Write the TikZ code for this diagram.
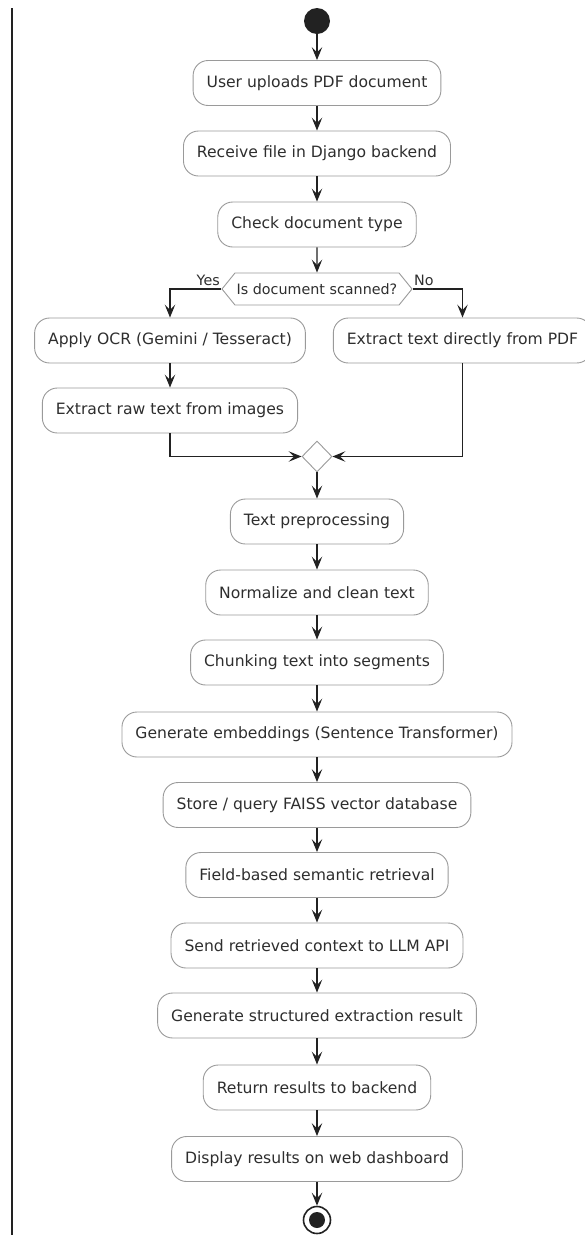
\documentclass[tikz,border=0pt]{standalone}
\usepackage{fontspec}
\setmainfont{DejaVu Sans}
\usetikzlibrary{arrows.meta,shapes.symbols,shapes.geometric}

\definecolor{ink}{HTML}{222222}
\definecolor{edge}{HTML}{9A9A9A}
\definecolor{txt}{HTML}{2E2E2E}

\begin{document}
\begin{tikzpicture}[x=1pt,y=-1pt,
  act/.style={draw=edge, line width=0.9pt, fill=white, rounded corners=15pt,
    minimum height=45pt, inner xsep=13.5pt, inner ysep=0pt, text=txt,
    font=\fontsize{15.6}{18}\selectfont},
  hexbox/.style={draw=edge, line width=0.9pt, fill=white, shape=signal,
    signal to=west and east, signal pointer angle=102,
    minimum width=190pt, minimum height=32pt, inner sep=0pt, text=txt,
    font=\fontsize{14.3}{17}\selectfont},
  mergebox/.style={draw=edge, line width=0.9pt, fill=white, shape=diamond,
    minimum width=30pt, minimum height=31pt, inner sep=0pt},
  lbl/.style={inner sep=0pt, text=txt, font=\fontsize{14.3}{17}\selectfont},
  flow/.style={draw=ink, line width=1.15pt,
    -{Stealth[length=13pt,width=10.5pt,inset=5.5pt]}},
]
\useasboundingbox (0,0) rectangle (585,1235);

% swimlane border on the left
\draw[ink, line width=1.6pt] (12,8) -- (12,1235);

% start / end markers
\node[circle, fill=ink, minimum size=26pt, inner sep=0pt] (start) at (317,21) {};
\node[circle, draw=ink, line width=1.6pt, minimum size=27pt, inner sep=0pt] (stop) at (317,1220) {};
\node[circle, fill=ink, minimum size=16pt, inner sep=0pt] (stopdot) at (317,1220) {};

% actions
\node[act] (upload) at (317,83) {User uploads PDF document};
\node[act] (receive) at (317,153.5) {Receive file in Django backend};
\node[act] (check) at (317,224.5) {Check document type};
\node[hexbox] (scan) at (317,289) {Is document scanned?};
\node[act] (ocr) at (170,340.5) {Apply OCR (Gemini / Tesseract)};
\node[act] (direct) at (462.5,340.5) {Extract text directly from PDF};
\node[act] (raw) at (170,410.5) {Extract raw text from images};
\node[mergebox] (merge) at (317,456.5) {};
\node[act] (prep) at (317,521.5) {Text preprocessing};
\node[act] (clean) at (317,592.5) {Normalize and clean text};
\node[act] (chunk) at (317,662.5) {Chunking text into segments};
\node[act] (embed) at (317,734.5) {Generate embeddings (Sentence Transformer)};
\node[act] (faiss) at (317,805) {Store / query FAISS vector database};
\node[act] (field) at (317,875) {Field-based semantic retrieval};
\node[act] (llm) at (317,945.5) {Send retrieved context to LLM API};
\node[act] (struct) at (317,1015.5) {Generate structured extraction result};
\node[act] (ret) at (317,1087.5) {Return results to backend};
\node[act] (show) at (317,1159) {Display results on web dashboard};

% branch labels
\node[lbl, anchor=base east] (yes) at (220,285.5) {Yes};
\node[lbl, anchor=base west] (no) at (414,285.5) {No};

% connectors
\draw[flow] (start) -- (upload);
\draw[flow] (upload) -- (receive);
\draw[flow] (receive) -- (check);
\draw[flow] (check) -- (scan);
\draw[flow] (scan.west) -| (ocr.north);
\draw[flow] (scan.east) -| (direct.north);
\draw[flow] (ocr) -- (raw);
\draw[flow] (raw.south) |- (merge.west);
\draw[flow] (direct.south) |- (merge.east);
\draw[flow] (merge) -- (prep);
\draw[flow] (prep) -- (clean);
\draw[flow] (clean) -- (chunk);
\draw[flow] (chunk) -- (embed);
\draw[flow] (embed) -- (faiss);
\draw[flow] (faiss) -- (field);
\draw[flow] (field) -- (llm);
\draw[flow] (llm) -- (struct);
\draw[flow] (struct) -- (ret);
\draw[flow] (ret) -- (show);
\draw[flow] (show) -- (stop);
\end{tikzpicture}
\end{document}
